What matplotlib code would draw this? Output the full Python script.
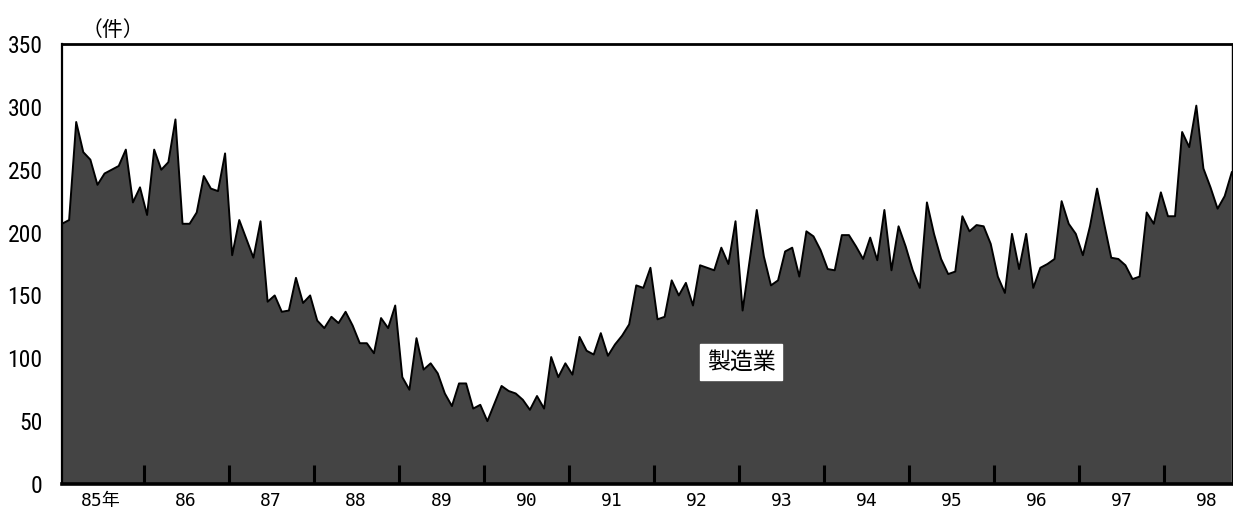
import numpy as np
import matplotlib
matplotlib.use("Agg")
import matplotlib.pyplot as plt

# monthly counts, Jan 1985 onward
counts = [
    207, 210, 288, 264, 258, 238, 247, 250, 253, 266, 224, 236,   # 85
    214, 266, 250, 256, 290, 207, 207, 216, 245, 235, 233, 263,   # 86
    182, 210, 195, 180, 209, 145, 150, 137, 138, 164, 144, 150,   # 87
    130, 124, 133, 128, 137, 126, 112, 112, 104, 132, 124, 142,   # 88
    85, 75, 116, 91, 96, 88, 72, 62, 80, 80, 60, 63,              # 89
    50, 64, 78, 74, 72, 67, 59, 70, 60, 101, 85, 96,              # 90
    87, 117, 106, 103, 120, 102, 111, 118, 127, 158, 156, 172,    # 91
    131, 133, 162, 150, 160, 142, 174, 172, 170, 188, 175, 209,   # 92
    138, 178, 218, 181, 158, 162, 185, 188, 165, 201, 197, 186,   # 93
    171, 170, 198, 198, 189, 179, 196, 178, 218, 170, 205, 189,   # 94
    170, 156, 224, 199, 179, 167, 169, 213, 201, 206, 205, 191,   # 95
    165, 152, 199, 171, 199, 156, 172, 175, 179, 225, 207, 199,   # 96
    182, 205, 235, 207, 180, 179, 174, 163, 165, 216, 207, 232,   # 97
    213, 213, 280, 268, 301, 251, 236, 219, 229, 248,             # 98
]
year_labels = ["85年", "86", "87", "88", "89", "90", "91", "92",
               "93", "94", "95", "96", "97", "98"]
y_ticks = [0, 50, 100, 150, 200, 250, 300, 350]
series_name = "製造業"

months = np.arange(len(counts))
jp = ["Noto Sans CJK JP", "DejaVu Sans"]
mono = ["DejaVu Sans Mono", "Noto Sans CJK JP"]
narrow = ["Roboto Condensed", "Liberation Sans Narrow", "DejaVu Sans"]

fig = plt.figure(figsize=(12.33, 5.21), dpi=100)
ax = fig.add_axes([0.0503, 0.071, 0.9487, 0.8445])

ax.fill_between(months, counts, 0, facecolor="#444444", linewidth=0)
ax.plot(months, counts, color="black", linewidth=1.4)

ax.set_xlim(0, len(counts) - 1)
ax.set_ylim(0, 350)

# year boundaries as short inward marks, year labels in the middle of each year
ax.set_xticks(np.arange(11.5, len(counts), 12))
ax.set_xticklabels([])
ax.tick_params(axis="x", which="major", direction="in", length=14,
               width=2.2, color="black")
ax.set_xticks(np.arange(5.5, 12 * len(year_labels), 12)[:len(year_labels)],
              minor=True)
ax.set_xticklabels(year_labels, minor=True, fontsize=13, family=mono)
ax.tick_params(axis="x", which="minor", length=0, pad=6)

ax.set_yticks(y_ticks)
ax.set_yticklabels([str(v) for v in y_ticks], fontsize=17, family=narrow,
                   fontstretch="condensed")
ax.tick_params(axis="y", length=0, pad=14)

for side, lw in [("top", 2.0), ("bottom", 2.6), ("left", 1.6), ("right", 1.0)]:
    ax.spines[side].set_linewidth(lw)
    ax.spines[side].set_color("black")

ax.text(95.8, 97, series_name, ha="center", va="center", fontsize=16.5,
        family=jp, color="black",
        bbox=dict(boxstyle="square,pad=0.3", facecolor="white",
                  edgecolor="white"))

fig.text(113 / 1233, 1 - 30 / 521, "（件）", ha="center", va="center",
         fontsize=15, family=jp)

fig.savefig("out.png", dpi=100)
